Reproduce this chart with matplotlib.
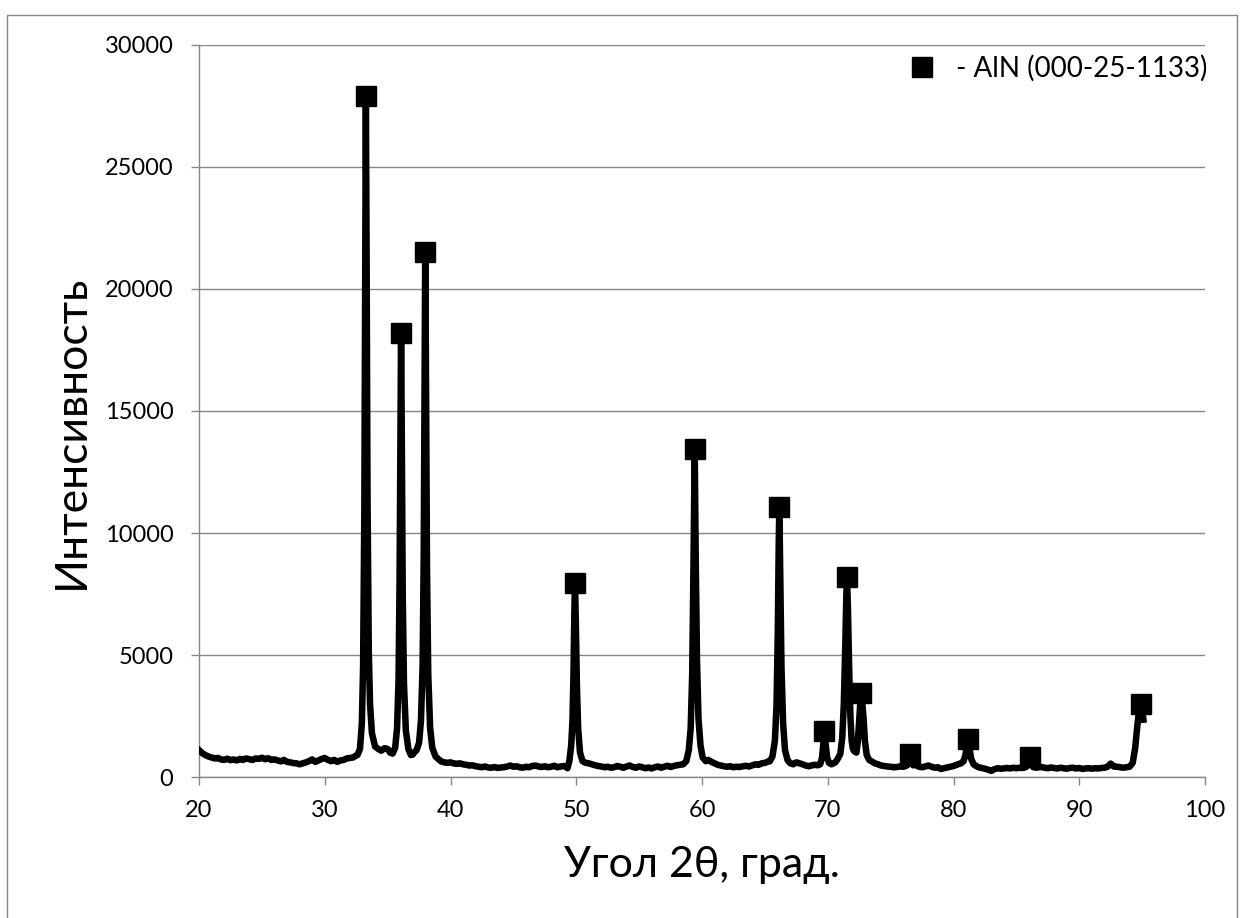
import matplotlib
matplotlib.use("Agg")
import matplotlib.pyplot as plt
from matplotlib.patches import Rectangle

plt.rcParams['font.family'] = ['Lato', 'Open Sans', 'DejaVu Sans']

# scan, (2theta, counts), split into regions
bg_20_32 = [(20.0, 1100), (20.25, 980), (20.5, 900), (20.75, 840), (21.0, 800), (21.25, 760),
            (21.5, 780), (21.75, 720), (22.0, 700), (22.25, 750), (22.5, 690), (22.75, 720),
            (23.0, 680), (23.25, 740), (23.5, 700), (23.75, 760), (24.0, 730), (24.25, 700),
            (24.5, 760), (24.75, 740), (25.0, 790), (25.25, 730), (25.5, 770), (25.75, 700),
            (26.0, 720), (26.25, 680), (26.5, 640), (26.75, 700), (27.0, 620), (27.25, 600),
            (27.5, 570), (27.75, 560), (28.0, 520), (28.25, 560), (28.5, 600), (28.75, 650),
            (29.0, 720), (29.25, 620), (29.5, 680), (29.75, 740), (30.0, 780), (30.25, 700),
            (30.5, 650), (30.75, 700), (31.0, 620), (31.25, 680), (31.5, 700), (31.75, 760),
            (32.0, 780), (32.25, 800), (32.5, 880)]
pk_33 = [(32.6, 900), (32.8, 1150), (32.95, 2200), (33.05, 4500), (33.15, 11000), (33.22, 21000),
         (33.27, 27900), (33.33, 21000), (33.4, 11500), (33.5, 5200), (33.6, 3000), (33.75, 1800),
         (34.0, 1250), (34.25, 1150), (34.5, 1080), (34.75, 1180), (35.0, 1150), (35.2, 1000)]
pk_36 = [(35.4, 960), (35.6, 1200), (35.75, 2000), (35.87, 4000), (35.95, 8000), (36.02, 14000),
         (36.07, 18200), (36.12, 14500), (36.2, 7500), (36.3, 3800), (36.45, 1900), (36.65, 1150),
         (36.85, 900), (37.0, 920)]
pk_38 = [(37.1, 1000), (37.3, 1100), (37.5, 1400), (37.65, 2300), (37.78, 4500), (37.87, 9000),
         (37.94, 16000), (37.99, 21500), (38.05, 16500), (38.13, 8500), (38.23, 4200), (38.38, 2000),
         (38.55, 1200), (38.8, 850), (39.0, 750)]
bg_39_49 = [(39.25, 640), (39.5, 600), (39.75, 580), (40.0, 600), (40.25, 560), (40.5, 540),
            (40.75, 560), (41.0, 520), (41.25, 500), (41.5, 470), (41.75, 480), (42.0, 440),
            (42.25, 420), (42.5, 400), (42.75, 430), (43.0, 390), (43.25, 380), (43.5, 410),
            (43.75, 370), (44.0, 390), (44.25, 400), (44.5, 430), (44.75, 470), (45.0, 420),
            (45.25, 440), (45.5, 400), (45.75, 380), (46.0, 420), (46.25, 400), (46.5, 450),
            (46.75, 470), (47.0, 430), (47.25, 410), (47.5, 440), (47.75, 400), (48.0, 420),
            (48.25, 460), (48.5, 400), (48.75, 430), (49.0, 450)]
pk_50 = [(49.2, 420), (49.3, 360), (49.45, 650), (49.6, 1300), (49.7, 2300), (49.78, 4200),
         (49.85, 6800), (49.9, 7950), (49.96, 6500), (50.05, 3800), (50.15, 2000), (50.3, 1000),
         (50.5, 650), (50.75, 580)]
bg_51_58 = [(51.0, 560), (51.25, 520), (51.5, 480), (51.75, 450), (52.0, 430), (52.25, 400),
            (52.5, 420), (52.75, 380), (53.0, 400), (53.25, 450), (53.5, 420), (53.75, 380),
            (54.0, 430), (54.25, 470), (54.5, 410), (54.75, 380), (55.0, 430), (55.25, 400),
            (55.5, 360), (55.75, 390), (56.0, 350), (56.25, 400), (56.5, 430), (56.75, 380),
            (57.0, 420), (57.25, 460), (57.5, 410), (57.75, 450), (58.0, 480), (58.25, 500)]
pk_59 = [(58.5, 520), (58.75, 650), (58.95, 1100), (59.1, 2000), (59.22, 4200), (59.32, 8500),
         (59.42, 13450), (59.5, 9000), (59.6, 4800), (59.72, 2400), (59.88, 1300), (60.05, 800),
         (60.3, 650), (60.5, 700)]
bg_60_65 = [(60.75, 620), (61.0, 560), (61.25, 500), (61.5, 470), (61.75, 440), (62.0, 420),
            (62.25, 440), (62.5, 400), (62.75, 420), (63.0, 410), (63.25, 440), (63.5, 460),
            (63.75, 430), (64.0, 480), (64.25, 520), (64.5, 500), (64.75, 560), (65.0, 580),
            (65.2, 620)]
pk_66 = [(65.4, 650), (65.6, 840), (65.8, 1500), (65.93, 3000), (66.03, 6000), (66.1, 9500),
         (66.15, 11080), (66.22, 8500), (66.32, 4500), (66.45, 2200), (66.6, 1100), (66.8, 700),
         (67.0, 570)]
bg_67_69 = [(67.25, 520), (67.5, 600), (67.75, 560), (68.0, 520), (68.25, 470), (68.5, 440),
            (68.75, 480), (69.0, 500), (69.2, 480)]
pk_70_73 = [(69.4, 520), (69.55, 800), (69.65, 1400), (69.73, 1850), (69.82, 1400), (69.95, 800),
            (70.1, 580), (70.3, 520), (70.6, 600), (70.8, 750), (71.0, 950), (71.15, 1600),
            (71.28, 3000), (71.4, 5500), (71.48, 7500), (71.53, 8200), (71.6, 7000), (71.7, 4500),
            (71.8, 2500), (71.9, 1500), (72.0, 1150), (72.12, 1050), (72.28, 1000), (72.4, 1500),
            (72.52, 2500), (72.62, 3300), (72.68, 3400), (72.75, 3000), (72.85, 2400), (72.95, 1500),
            (73.1, 900), (73.3, 700), (73.5, 640)]
bg_73_95 = [(73.75, 560), (74.0, 520), (74.25, 470), (74.5, 450), (74.75, 430), (75.0, 420),
            (75.25, 400), (75.5, 410), (75.75, 430), (76.0, 420), (76.2, 450),
            (76.35, 500), (76.45, 700), (76.55, 900), (76.65, 700), (76.8, 480),
            (77.0, 500), (77.25, 420), (77.5, 400), (77.75, 430), (78.0, 470), (78.25, 420),
            (78.5, 380), (78.75, 400), (79.0, 330), (79.25, 360), (79.5, 390), (79.75, 420),
            (80.0, 450), (80.25, 500), (80.4, 530), (80.6, 560),
            (80.8, 650), (80.95, 900), (81.08, 1350), (81.17, 1500), (81.27, 1200), (81.4, 750),
            (81.6, 520), (81.8, 450), (82.0, 400), (82.25, 370), (82.5, 340), (82.75, 300),
            (83.0, 250), (83.25, 320), (83.5, 360), (83.75, 340), (84.0, 350), (84.25, 370),
            (84.5, 350), (84.75, 380), (85.0, 360), (85.25, 380), (85.4, 370), (85.6, 380),
            (85.8, 420), (85.95, 600), (86.05, 750), (86.15, 600), (86.35, 400), (86.6, 380),
            (86.8, 400), (87.0, 410), (87.25, 380), (87.5, 360), (87.75, 390), (88.0, 370),
            (88.25, 350), (88.5, 380), (88.75, 360), (89.0, 340), (89.25, 370), (89.5, 380),
            (89.75, 350), (90.0, 370), (90.25, 330), (90.5, 350), (90.75, 360), (91.0, 340),
            (91.25, 360), (91.5, 350), (91.75, 370), (92.0, 380), (92.25, 420), (92.5, 550),
            (92.75, 430), (93.0, 420), (93.25, 400), (93.5, 380), (93.75, 400), (94.0, 420),
            (94.25, 580), (94.45, 1200), (94.6, 2000), (94.75, 2700), (94.9, 3000), (95.05, 2600),
            (95.1, 2350)]

# AlN reflections (markers)
aln_pos = [33.27, 36.07, 37.99, 49.9, 59.42, 66.15, 69.73, 71.53, 72.66, 76.55, 81.17, 86.05, 94.9]
aln_int = [27900, 18200, 21500, 7950, 13450, 11080, 1900, 8200, 3450, 940, 1560, 800, 3000]

xticks = list(range(20, 101, 10))
yticks = list(range(0, 30001, 5000))

scan = sorted(bg_20_32 + pk_33 + pk_36 + pk_38 + bg_39_49 + pk_50 + bg_51_58 + pk_59
              + bg_60_65 + pk_66 + bg_67_69 + pk_70_73 + bg_73_95)
two_theta = [p[0] for p in scan]
counts = [p[1] for p in scan]

grey = '#868686'
fig = plt.figure(figsize=(12.43, 9.18), dpi=100)
fig.patches.append(Rectangle((7 / 1243, -0.02), 1230 / 1243, 1 - 15 / 918 + 0.02,
                             transform=fig.transFigure, fill=False, edgecolor=grey, lw=1.0))
ax = fig.add_axes([199 / 1243, 141 / 918, 1006 / 1243, 732 / 918])

ax.plot(two_theta, counts, color='black', lw=4.7, solid_joinstyle='round', zorder=3)
ax.plot(aln_pos, aln_int, ls='none', marker='s', ms=14.5, color='black', zorder=4,
        label='- AlN (000-25-1133)')

ax.set_xlim(20, 100)
ax.set_ylim(0, 30000)
ax.set_xticks(xticks)
ax.set_yticks(yticks)
ax.grid(axis='y', color=grey, lw=1.0)
ax.set_axisbelow(True)
for s in ['top', 'right']:
    ax.spines[s].set_visible(False)
for s in ['left', 'bottom']:
    ax.spines[s].set_color(grey)
    ax.spines[s].set_linewidth(1.0)
ax.tick_params(axis='both', colors=grey, length=5.5, width=1.0, labelsize=17, labelcolor='black')
ax.tick_params(axis='x', pad=11)
ax.tick_params(axis='y', pad=13)

ax.set_xlabel('Угол 2θ, град.', fontsize=31)
ax.set_ylabel('Интенсивность', fontsize=32)
ax.xaxis.set_label_coords(0.5, -0.094)
ax.yaxis.set_label_coords(-0.106, 0.472)

ax.legend(loc='upper right', bbox_to_anchor=(1207 / 1243, 1 - 55 / 918), bbox_transform=fig.transFigure,
          frameon=False, fontsize=20, handlelength=0.8, handletextpad=0.8, borderpad=0,
          borderaxespad=0)

fig.savefig('out.png', dpi=100)
